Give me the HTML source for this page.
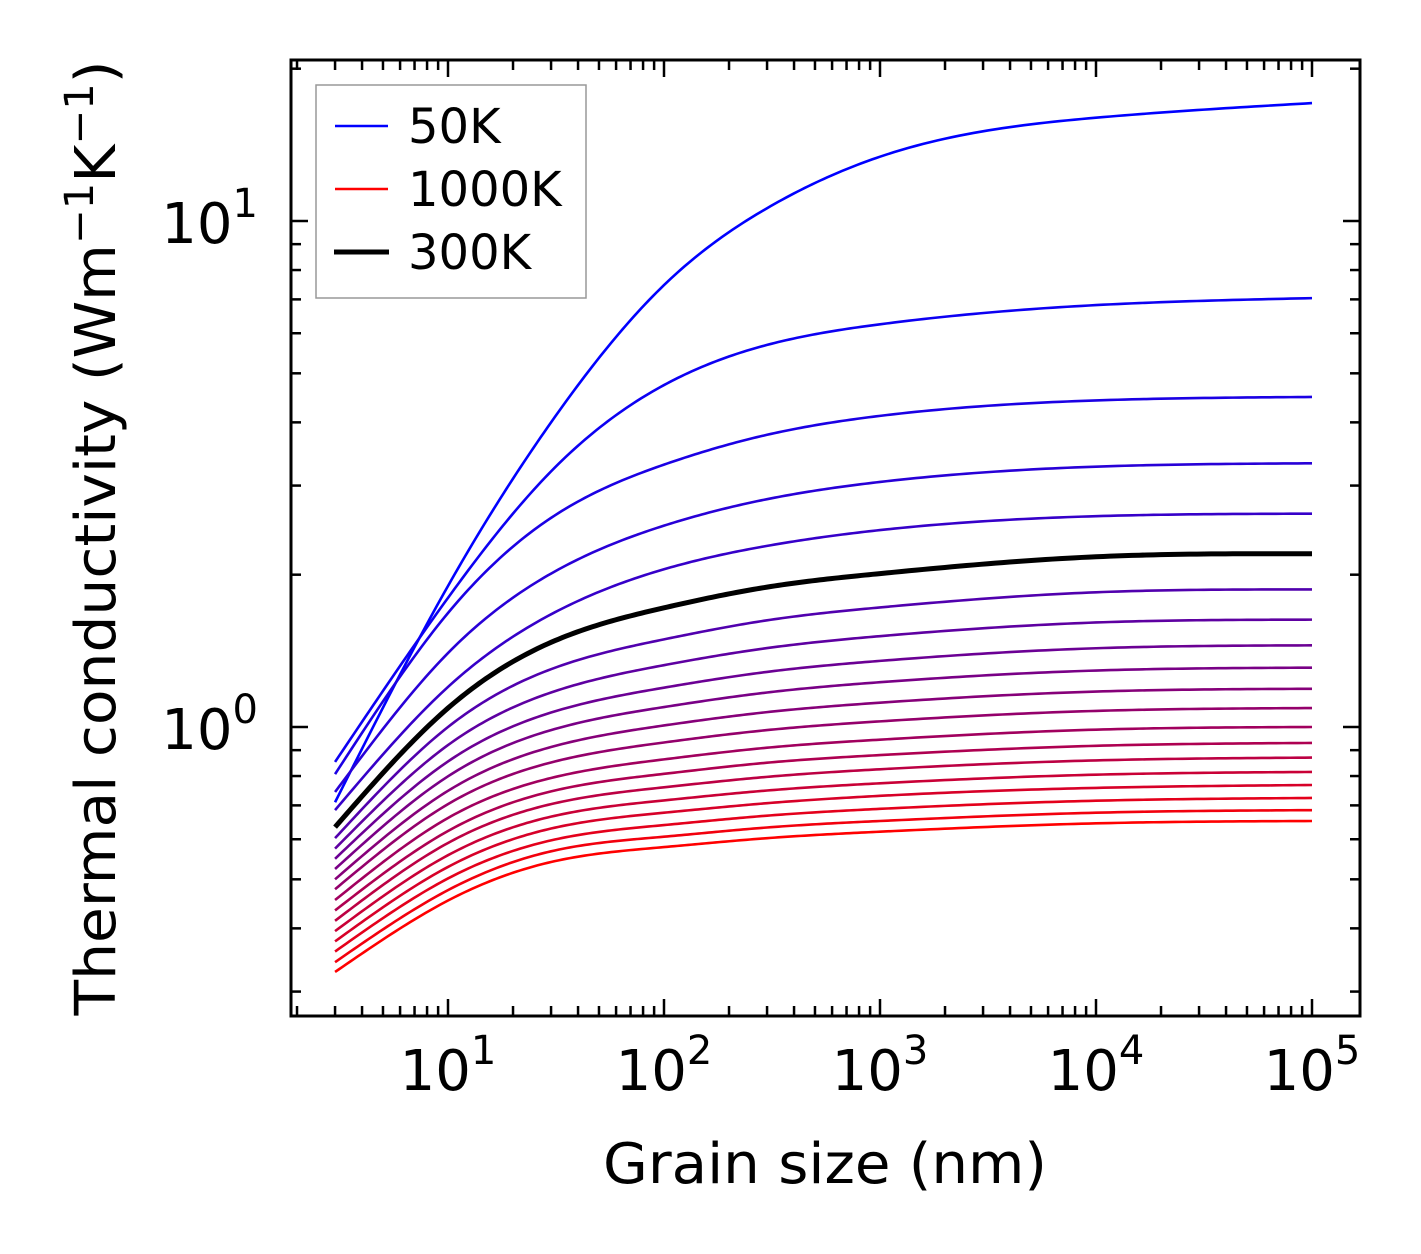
<!DOCTYPE html>
<html><head><meta charset="utf-8"><style>
html,body{margin:0;padding:0;background:#fff;}
svg{display:block;font-family:"DejaVu Sans","Liberation Sans",sans-serif;}
</style></head><body>
<svg id="chart" width="1421" height="1254" viewBox="0 0 1421 1254" xmlns="http://www.w3.org/2000/svg">
<rect x="0" y="0" width="1421" height="1254" fill="#fff"/>
<g id="curves"></g>
<g id="ticks"></g>
<rect x="291" y="60" width="1069" height="956" fill="none" stroke="#000" stroke-width="3"/>
<g id="xlabels" font-size="56" text-anchor="middle"></g>
<g id="ylabels" font-size="56" text-anchor="end"></g>
<text x="825" y="1183" font-size="56" text-anchor="middle" textLength="444" lengthAdjust="spacingAndGlyphs">Grain size (nm)</text>
<text transform="translate(115,538) rotate(-90)" font-size="56" text-anchor="middle" textLength="955" lengthAdjust="spacingAndGlyphs">Thermal conductivity (Wm<tspan dy="-22" font-size="40">−1</tspan><tspan dy="22">K</tspan><tspan dy="-22" font-size="40">−1</tspan><tspan dy="22">)</tspan></text>
<g>
<rect x="316" y="85" width="270" height="213" fill="#fff" stroke="#999" stroke-width="1.5"/>
<line x1="335" y1="126" x2="388" y2="126" stroke="#0000ff" stroke-width="2.5"/>
<text x="408" y="143" font-size="48">50K</text>
<line x1="335" y1="189" x2="388" y2="189" stroke="#ff0000" stroke-width="2.5"/>
<text x="408" y="206" font-size="48">1000K</text>
<line x1="334" y1="252" x2="389" y2="252" stroke="#000" stroke-width="5"/>
<text x="408" y="269" font-size="48">300K</text>
</g>
</svg>
<script>
const grainSizes = [3, 10, 30, 100, 300, 1000, 10000, 100000];
const temperatures = [50,100,150,200,250,300,350,400,450,500,550,600,650,700,750,800,850,900,950,1000];
const k50 = [0.71, 1.9, 4.0, 7.47, 10.6, 13.4, 16.0, 17.1];
const k100 = [0.853, 1.80, 3.2, 4.74, 5.69, 6.25, 6.82, 7.04];
const k150 = [0.807, 1.68, 2.59, 3.30, 3.78, 4.12, 4.42, 4.49];
const k200 = [0.744, 1.40, 2.01, 2.50, 2.82, 3.05, 3.27, 3.32];
const k250 = [0.685, 1.20, 1.67, 2.05, 2.28, 2.45, 2.61, 2.64];
const k300 = [0.634, 1.09, 1.47, 1.72, 1.89, 2.01, 2.17, 2.20];
const k350 = [0.603, 1.000, 1.301, 1.49, 1.625, 1.723, 1.846, 1.87];
const k400 = [0.575, 0.921, 1.170, 1.325, 1.432, 1.512, 1.609, 1.63];
const k450 = [0.549, 0.855, 1.068, 1.196, 1.285, 1.351, 1.431, 1.45];
const k500 = [0.524, 0.799, 0.986, 1.095, 1.170, 1.226, 1.293, 1.31];
const k550 = [0.500, 0.748, 0.913, 1.007, 1.070, 1.117, 1.175, 1.19];
const k600 = [0.478, 0.704, 0.851, 0.932, 0.986, 1.026, 1.076, 1.09];
const k650 = [0.455, 0.661, 0.793, 0.863, 0.910, 0.944, 0.988, 1.0];
const k700 = [0.434, 0.623, 0.746, 0.808, 0.850, 0.880, 0.918, 0.93];
const k750 = [0.414, 0.590, 0.704, 0.760, 0.797, 0.825, 0.859, 0.87];
const k800 = [0.395, 0.558, 0.665, 0.716, 0.749, 0.774, 0.805, 0.815];
const k850 = [0.377, 0.529, 0.630, 0.677, 0.707, 0.731, 0.758, 0.768];
const k900 = [0.360, 0.502, 0.597, 0.640, 0.668, 0.689, 0.715, 0.724];
const k950 = [0.343, 0.476, 0.568, 0.607, 0.633, 0.652, 0.677, 0.685];
const k1000 = [0.328, 0.454, 0.541, 0.579, 0.603, 0.621, 0.645, 0.652];
const seriesList = [k50,k100,k150,k200,k250,k300,k350,k400,k450,k500,k550,k600,k650,k700,k750,k800,k850,k900,k950,k1000];
const xTickLabels = ["1", "2", "3", "4", "5"];
const yTickLabels = ["0", "1"];

const NS = "http://www.w3.org/2000/svg";
const X0 = 448, XDEC = 216;
const Y0 = 727, YDEC = 506;
function xs(v){ return X0 + (Math.log10(v) - 1) * XDEC; }
function ys(v){ return Y0 - Math.log10(v) * YDEC; }

// natural cubic spline in pixel space (C2 smooth)
function curvePath(xv, yv){
  const X = xv.map(xs), Y = yv.map(ys), N = X.length;
  const h = []; for(let i=0;i<N-1;i++) h.push(X[i+1]-X[i]);
  const a = new Array(N).fill(0), b = new Array(N).fill(1), c = new Array(N).fill(0), r = new Array(N).fill(0);
  for(let i=1;i<N-1;i++){
    a[i] = h[i-1]; b[i] = 2*(h[i-1]+h[i]); c[i] = h[i];
    r[i] = 6*((Y[i+1]-Y[i])/h[i] - (Y[i]-Y[i-1])/h[i-1]);
  }
  // Thomas algorithm
  for(let i=1;i<N;i++){ const w = a[i]/b[i-1]; b[i] -= w*c[i-1]; r[i] -= w*r[i-1]; }
  const M = new Array(N); M[N-1] = r[N-1]/b[N-1];
  for(let i=N-2;i>=0;i--) M[i] = (r[i]-c[i]*M[i+1])/b[i];
  let d = "M" + X[0].toFixed(2) + "," + Y[0].toFixed(2);
  for(let i=0;i<N-1;i++){
    for(let s=1;s<=30;s++){
      const t = s/30, x = X[i] + t*h[i];
      const A = 1-t, B = t;
      const y = A*Y[i] + B*Y[i+1] + ((A*A*A-A)*M[i] + (B*B*B-B)*M[i+1])*h[i]*h[i]/6;
      d += " L" + x.toFixed(2) + "," + y.toFixed(2);
    }
  }
  return d;
}

const cg = document.getElementById("curves");
const n = seriesList.length;
const blackIdx = temperatures.indexOf(300);
seriesList.forEach((ser, i) => {
  if (i === blackIdx) return;
  const r = Math.round(255 * i / (n-1)), b = 255 - r;
  const path = document.createElementNS(NS, "path");
  path.setAttribute("d", curvePath(grainSizes, ser));
  path.setAttribute("fill", "none");
  path.setAttribute("stroke", `rgb(${r},0,${b})`);
  path.setAttribute("stroke-width", "2.6");
  path.setAttribute("stroke-linejoin", "round");
  
  
  cg.appendChild(path);
});
{
  const path = document.createElementNS(NS, "path");
  path.setAttribute("d", curvePath(grainSizes, seriesList[blackIdx]));
  path.setAttribute("fill", "none");
  path.setAttribute("stroke", "#000");
  path.setAttribute("stroke-width", "5");
  path.setAttribute("stroke-linejoin", "round");
  
  
  cg.appendChild(path);
}

const tg = document.getElementById("ticks");
function tick(x1,y1,x2,y2,w){
  const l = document.createElementNS(NS,"line");
  l.setAttribute("x1",x1); l.setAttribute("y1",y1); l.setAttribute("x2",x2); l.setAttribute("y2",y2);
  l.setAttribute("stroke","#000"); l.setAttribute("stroke-width",w);
  
  
  tg.appendChild(l);
}
const L=291,R=1360,T=60,B=1016;
for(let e=0;e<=5;e++){
  for(let m=1;m<=9;m++){
    const x = xs(m*Math.pow(10,e));
    if(x<L+1||x>R-1) continue;
    const len = m===1?17:10;
    tick(x,B,x,B-len,2.5); tick(x,T,x,T+len,2.5);
  }
}
for(let e=-1;e<=1;e++){
  for(let m=1;m<=9;m++){
    const y = ys(m*Math.pow(10,e));
    if(y<T+1||y>B-1) continue;
    const len = m===1?17:10;
    tick(L,y,L+len,y,2.5); tick(R,y,R-len,y,2.5);
  }
}
const xl = document.getElementById("xlabels");
xTickLabels.forEach(lab => {
  const t = document.createElementNS(NS,"text");
  t.setAttribute("x", xs(Math.pow(10, +lab)));
  t.setAttribute("y", 1090);
  t.innerHTML = '10<tspan dy="-26" font-size="40">' + lab + '</tspan>';
  
  
  xl.appendChild(t);
});
const yl = document.getElementById("ylabels");
yTickLabels.forEach(lab => {
  const t = document.createElementNS(NS,"text");
  t.setAttribute("x", 258);
  t.setAttribute("y", ys(Math.pow(10, +lab)) + 22);
  t.innerHTML = '10<tspan dy="-26" font-size="40">' + lab + '</tspan>';
  
  
  yl.appendChild(t);
});
</script>
</body></html>
